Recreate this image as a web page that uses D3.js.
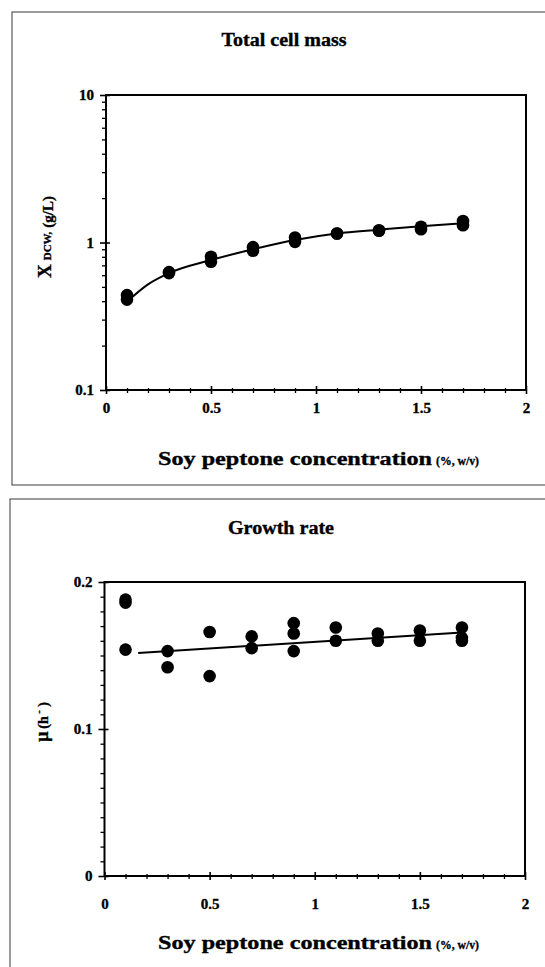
<!DOCTYPE html>
<html><head><meta charset="utf-8">
<script src="https://cdn.jsdelivr.net/npm/d3@7"></script>
<style>
body{margin:0;background:#fff}
svg{display:block}
text{font-family:"Liberation Serif","Times New Roman",serif;font-weight:bold;fill:#000;stroke:#000;stroke-width:0.35px}
</style>
</head><body>
<svg id="fig" width="545" height="967"></svg>
<script>
// Soy peptone concentration (%, w/v) of each culture
const conc = [0.1, 0.3, 0.5, 0.7, 0.9, 1.1, 1.3, 1.5, 1.7];

// Total cell mass, dry cell weight (g/L), two replicates
const massRep1 = [0.44, 0.62, 0.80, 0.93, 1.08, 1.15, 1.20, 1.28, 1.40];
const massRep2 = [0.41, 0.63, 0.74, 0.88, 1.01, 1.15, 1.21, 1.23, 1.31];
// fitted saturation curve through the cell mass data
const massFitX = [0.1, 0.2, 0.3, 0.5, 0.7, 0.9, 1.1, 1.3, 1.5, 1.7];
const massFitY = [0.397, 0.52, 0.62, 0.76, 0.90, 1.04, 1.15, 1.22, 1.29, 1.35];

// Specific growth rate (1/h), up to three replicates
const rateRep1 = [0.188, 0.153, 0.166, 0.163, 0.172, 0.169, 0.165, 0.167, 0.169];
const rateRep2 = [0.186, 0.142, 0.136, 0.155, 0.165, 0.160, 0.160, 0.160, 0.162];
const rateRep3 = [0.154, null, null, null, 0.153, null, null, null, 0.160];
// linear trend of the growth rate
const rateFitX = [0.16, 1.7];
const rateFitY = [0.1517, 0.1656];

// axis ticks
const xTicks = [0, 0.5, 1, 1.5, 2];
const xTickLabels = ["0", "0.5", "1", "1.5", "2"];
const massTicks = [0.1, 1, 10];
const massTickLabels = ["0.1", "1", "10"];
const massMinor = [0.2,0.3,0.4,0.5,0.6,0.7,0.8,0.9,2,3,4,5,6,7,8,9];
const rateTicks = [0, 0.1, 0.2];
const rateTickLabels = ["0", "0.1", "0.2"];

const svg = d3.select("#fig");
svg.append("rect").attr("width", 545).attr("height", 967).attr("fill", "#fff");

// panel borders
svg.append("rect").attr("x", 12).attr("y", 12).attr("width", 600).attr("height", 473)
  .attr("fill", "none").attr("stroke", "#3a3a3a").attr("stroke-width", 1);
svg.append("rect").attr("x", 10).attr("y", 499).attr("width", 600).attr("height", 520)
  .attr("fill", "none").attr("stroke", "#3a3a3a").attr("stroke-width", 1);

function pts(xs, ys) {
  return xs.map((x, i) => [x, ys[i]]).filter(d => d[1] != null);
}

function drawPanel(o) {
  const g = svg.append("g");
  const x = o.x, y = o.y;
  const [x0, x1] = x.range();
  const [yb, yt] = y.range();

  // x minor ticks every 0.1
  const xMinor = d3.range(1, 20).map(i => i / 10).filter(v => Math.abs(v * 2 - Math.round(v * 2)) > 1e-6);
  const xa = g.append("g").attr("transform", `translate(0,${yb})`)
    .call(d3.axisBottom(x).tickValues(xTicks).tickFormat((d, i) => xTickLabels[i])
      .tickSizeInner(4).tickSizeOuter(0).tickPadding(o.xPad));
  xa.select(".domain").remove();
  xa.selectAll(".tick line").attr("y1", -4).attr("stroke-width", 1.6);
  xa.selectAll("text").attr("font-size", 15);
  const xm = g.append("g").attr("transform", `translate(0,${yb})`)
    .call(d3.axisBottom(x).tickValues(xMinor).tickFormat("").tickSizeInner(3).tickSizeOuter(0));
  xm.select(".domain").remove();
  xm.selectAll(".tick line").attr("y1", -2).attr("stroke-width", 1.3);

  // y axis
  const ya = g.append("g").attr("transform", `translate(${x0},0)`)
    .call(d3.axisLeft(y).tickValues(o.yTicks).tickFormat((d, i) => o.yLabels[i])
      .tickSizeInner(6).tickSizeOuter(0).tickPadding(6));
  ya.select(".domain").remove();
  ya.selectAll(".tick line").attr("x1", 4).attr("stroke-width", 1.6);
  ya.selectAll("text").attr("font-size", 15);
  const ym = g.append("g").attr("transform", `translate(${x0},0)`)
    .call(d3.axisLeft(y).tickValues(o.yMinor).tickFormat("").tickSizeInner(4).tickSizeOuter(0));
  ym.select(".domain").remove();
  ym.selectAll(".tick line").attr("stroke-width", 1.3);

  // plot frame
  g.append("rect").attr("x", x0).attr("y", yt).attr("width", x1 - x0).attr("height", yb - yt)
    .attr("fill", "none").attr("stroke", "#000").attr("stroke-width", 2);

  // fit line
  g.append("path").datum(pts(o.fitX, o.fitY))
    .attr("d", d3.line().x(d => x(d[0])).y(d => y(d[1])).curve(o.curve))
    .attr("fill", "none").attr("stroke", "#000").attr("stroke-width", 2);

  // data points
  o.reps.forEach(rep => {
    g.append("g").selectAll("circle").data(pts(conc, rep)).join("circle")
      .attr("cx", d => x(d[0])).attr("cy", d => y(d[1])).attr("r", 6.3).attr("fill", "#000");
  });

  // titles
  g.append("text").attr("x", o.titleX).attr("y", o.titleY).attr("font-size", 18)
    .attr("text-anchor", "middle").attr("textLength", o.titleLen).attr("lengthAdjust", "spacingAndGlyphs")
    .text(o.title);
  g.append("text").attr("x", 158).attr("y", o.axTitleY).attr("font-size", 18)
    .attr("textLength", 274).attr("lengthAdjust", "spacingAndGlyphs")
    .text("Soy peptone concentration");
  g.append("text").attr("x", 436).attr("y", o.axTitleY).attr("font-size", 13)
    .attr("textLength", 43).attr("lengthAdjust", "spacingAndGlyphs")
    .text("(%, w/v)");
  return g;
}

const xTop = d3.scaleLinear().domain([0, 2]).range([106, 526]);
const yTop = d3.scaleLog().domain([0.1, 10]).range([390, 95]);
drawPanel({
  x: xTop, y: yTop, xPad: 8.5,
  yTicks: massTicks, yLabels: massTickLabels, yMinor: massMinor,
  fitX: massFitX, fitY: massFitY, curve: d3.curveMonotoneX,
  reps: [massRep1, massRep2],
  title: "Total cell mass", titleX: 284, titleY: 46, titleLen: 125,
  axTitleY: 465
});

const xBot = d3.scaleLinear().domain([0, 2]).range([104.5, 525]);
const yBot = d3.scaleLinear().domain([0, 0.2]).range([876, 582]);
drawPanel({
  x: xBot, y: yBot, xPad: 18.5,
  yTicks: rateTicks, yLabels: rateTickLabels, yMinor: d3.range(1, 20).filter(i => i !== 10).map(i => i / 100),
  fitX: rateFitX, fitY: rateFitY, curve: d3.curveLinear,
  reps: [rateRep1, rateRep2, rateRep3],
  title: "Growth rate", titleX: 281, titleY: 534, titleLen: 106,
  axTitleY: 949
});

// y axis titles
const yl1 = svg.append("text").attr("transform", "translate(51,237) rotate(-90)")
  .attr("text-anchor", "middle");
yl1.append("tspan").attr("font-size", 19).text("X");
yl1.append("tspan").attr("font-size", 11).attr("dx", 4).text("DCW,");
yl1.append("tspan").attr("font-size", 15).attr("dx", 4).attr("dy", 2).text("(g/L)");

const yl2 = svg.append("text").attr("transform", "translate(48,722) rotate(-90)")
  .attr("text-anchor", "middle");
yl2.append("tspan").attr("font-size", 18).text("μ");
yl2.append("tspan").attr("font-size", 14).attr("dx", 3).text("(h");
yl2.append("tspan").attr("font-size", 10).attr("dy", -6).text(" -");
yl2.append("tspan").attr("font-size", 14).attr("dy", 6).text(" )");
</script>
</body></html>
